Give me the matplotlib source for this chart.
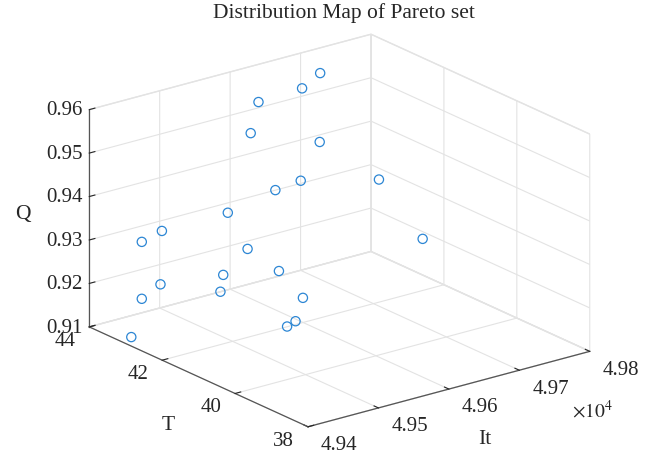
import numpy as np
import matplotlib
matplotlib.use('Agg')
import matplotlib.pyplot as plt
from mpl_toolkits.mplot3d import proj3d

# ---------------- data ----------------
It = [49703, 49668, 49603, 49564, 49634, 49656, 49576, 49540, 49488, 49441, 49428,
      49485, 49514, 49466, 49439, 49462, 49428, 49517, 49491, 49479, 49687, 49410]
T = [43.52, 43.34, 43.28, 42.74, 42.2, 41.0, 41.6, 41.6, 41.9, 42.8, 43.1,
     41.3, 41.0, 41.6, 42.8, 41.6, 43.1, 40.4, 40.1, 40.1, 40.4, 43.04]
Q = [0.9571, 0.9558, 0.9557, 0.9523, 0.9493, 0.9443, 0.9452, 0.9446, 0.9405, 0.9349, 0.9318,
     0.9346, 0.9294, 0.9283, 0.9227, 0.9246, 0.9187, 0.9254, 0.9223, 0.9216, 0.9316, 0.9109]

it_ticks = [49400, 49500, 49600, 49700, 49800]
it_labels = ['4.94', '4.95', '4.96', '4.97', '4.98']
t_ticks = [38, 40, 42, 44]
t_labels = ['38', '40', '42', '44']
q_ticks = [0.91, 0.92, 0.93, 0.94, 0.95, 0.96]
q_labels = ['0.91', '0.92', '0.93', '0.94', '0.95', '0.96']

# ---------------- style ----------------
plt.rcParams['font.family'] = ['Liberation Serif', 'DejaVu Serif']
plt.rcParams['mathtext.fontset'] = 'stix'
plt.rcParams['grid.color'] = '#e3e3e3'
plt.rcParams['grid.linewidth'] = 0.8
plt.rcParams['axes3d.automargin'] = False

W, H = 656, 453
fig = plt.figure(figsize=(W / 100, H / 100), dpi=100)
fig.patch.set_facecolor('white')

ax = fig.add_axes([0.1, 0.1, 0.8, 0.8 * W / H], projection='3d')
ax.set_proj_type('ortho')
ax.view_init(elev=20.46, azim=-127.44)
ax.set_box_aspect((355, 360, 232))
ax.set_xlim(it_ticks[0], it_ticks[-1])
ax.set_ylim(t_ticks[0], t_ticks[-1])
ax.set_zlim(q_ticks[0], q_ticks[-1])

ax.scatter(It, T, Q, s=44, facecolors='none', edgecolors='#2c86d4',
           linewidths=0.9, depthshade=False)

ax.set_xticks(it_ticks)
ax.set_xticklabels(it_labels, ha='left', va='center')
ax.set_yticks(t_ticks)
ax.set_yticklabels(t_labels, ha='right', va='center')
ax.set_zticks(q_ticks)
ax.set_zticklabels(q_labels, ha='center', va='center_baseline')
ax.tick_params(labelsize=15, colors='#262626')
ax.tick_params(axis='x', pad=4)
ax.tick_params(axis='y', pad=2)
ax.tick_params(axis='z', pad=2)

for axis in (ax.xaxis, ax.yaxis, ax.zaxis):
    axis.set_pane_color((1, 1, 1, 1))
    axis.pane.set_edgecolor('#e3e3e3')
    axis.line.set_color('#555555')
    axis.line.set_linewidth(0.9)
    axis._axinfo['tick']['inward_factor'] = 0.0
    axis._axinfo['tick']['outward_factor'] = 0.25

# ---------------- calibrate the box onto the reference layout ----------------
fig.canvas.draw()

def to_px(x, y, z):
    xs, ys, _ = proj3d.proj_transform(x, y, z, ax.M)
    return np.array(ax.transData.transform((xs, ys)))

x0, x1 = it_ticks[0], it_ticks[-1]
y0, y1 = t_ticks[0], t_ticks[-1]
z0, z1 = q_ticks[0], q_ticks[-1]
A = to_px(x0, y1, z0)
C = to_px(x1, y0, z0)
B = to_px(x0, y0, z0)
Atop = to_px(x0, y1, z1)
far = to_px(x1, y1, z1)
cur_w = C[0] - A[0]
cur_h = Atop[1] - B[1]
k = 0.5 * (500.7 / cur_w + 317.0 / cur_h)
center_now = 0.5 * (B + far)
bb = ax.get_position()
ax_c = np.array([(bb.x0 + bb.x1) / 2 * W, (bb.y0 + bb.y1) / 2 * H])
size = min(bb.width * W, bb.height * H) * k
target_center = np.array([339.5, H - 230.5])
new_c = target_center - k * (center_now - ax_c)
ax.set_position([(new_c[0] - size / 2) / W, (new_c[1] - size / 2) / H, size / W, size / H])

txt = dict(color='#262626', ha='center', va='center')
fig.text(343.5 / W, 1 - 13 / H, 'Distribution Map of Pareto set', fontsize=15.5, **txt)
fig.text(592 / W, 1 - 411 / H, r'$\times10^{4}$', fontsize=14, **txt)
fig.text(22.5 / W, 1 - 215 / H, 'Q', fontsize=15.5, **txt)
fig.text(168 / W, 1 - 425 / H, 'T', fontsize=15.5, **txt)
fig.text(485 / W, 1 - 439 / H, 'It', fontsize=15.5, **txt)

fig.savefig('out.png', dpi=100, facecolor='white')
